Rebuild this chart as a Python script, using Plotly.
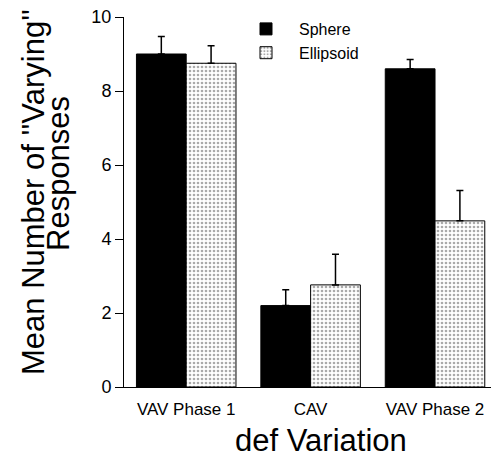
import plotly.graph_objects as go

categories = ["VAV Phase 1", "CAV", "VAV Phase 2"]
sphere = [9.0, 2.2, 8.6]
sphere_err = [0.47, 0.43, 0.25]
ellipsoid = [8.75, 2.76, 4.49]
ellipsoid_err = [0.47, 0.83, 0.82]
y_ticks = [0, 2, 4, 6, 8, 10]

FONT = "Liberation Sans, Arial, Helvetica, sans-serif"

fig = go.Figure()
fig.add_trace(go.Bar(
    name="Sphere", x=categories, y=sphere,
    marker=dict(color="black", line=dict(color="black", width=1)),
    error_y=dict(type="data", symmetric=False, array=sphere_err,
                 arrayminus=[0] * len(sphere), thickness=1.5, width=3.5, color="black"),
))
fig.add_trace(go.Bar(
    name="Ellipsoid", x=categories, y=ellipsoid,
    marker=dict(color="white", line=dict(color="black", width=1),
                pattern=dict(shape=".", fgcolor="#555", bgcolor="white",
                             size=4, solidity=0.35)),
    error_y=dict(type="data", symmetric=False, array=ellipsoid_err,
                 arrayminus=[0] * len(ellipsoid), thickness=1.5, width=3.5, color="black"),
))

W, H = 497, 457
L, R, T, B = 124, 6, 17, 70
pw, ph = W - L - R, H - T - B

def px(x):
    return (x - L) / pw

def py(y):
    return (H - B - y) / ph

fig.update_layout(
    width=W, height=H,
    margin=dict(l=L, r=R, t=T, b=B),
    paper_bgcolor="white", plot_bgcolor="white",
    font=dict(family=FONT, color="black"),
    barmode="group", bargap=0.2, bargroupgap=0,
    showlegend=True,
    legend=dict(x=px(233), y=py(12), xanchor="left", yanchor="top",
                font=dict(size=16), bgcolor="rgba(0,0,0,0)",
                itemwidth=56, tracegroupgap=0),
    xaxis=dict(type="category", range=[-0.5, 2.45], showline=True,
               linecolor="black", linewidth=1, ticks="", showgrid=False,
               tickfont=dict(size=17), ticklabelstandoff=7),
    yaxis=dict(range=[0, 10], tickvals=y_ticks, showline=True,
               linecolor="black", linewidth=1, ticks="outside", ticklen=8,
               tickcolor="black", tickwidth=1, showgrid=False, zeroline=False,
               tickfont=dict(size=18)),
    shapes=[
        dict(type="line", xref="x domain", x0=0, x1=0, yref="y",
             ysizemode="pixel", yanchor=0, y0=0, y1=-8,
             line=dict(color="black", width=1)),
        dict(type="line", xref="x domain", x0=1, x1=1, yref="y",
             ysizemode="pixel", yanchor=0, y0=0, y1=-8,
             line=dict(color="black", width=1)),
    ],
    annotations=[
        dict(text="def Variation", xref="paper", yref="paper",
             x=px(321), y=py(440), xanchor="center", yanchor="middle",
             showarrow=False, font=dict(size=31)),
        dict(text="Mean Number of ''Varying''", xref="paper", yref="paper",
             x=px(33), y=py(192), xanchor="center", yanchor="middle",
             textangle=-90, showarrow=False, font=dict(size=31)),
        dict(text="Responses", xref="paper", yref="paper",
             x=px(58), y=py(174), xanchor="center", yanchor="middle",
             textangle=-90, showarrow=False, font=dict(size=31)),
    ],
)

fig.write_html("out.html")
